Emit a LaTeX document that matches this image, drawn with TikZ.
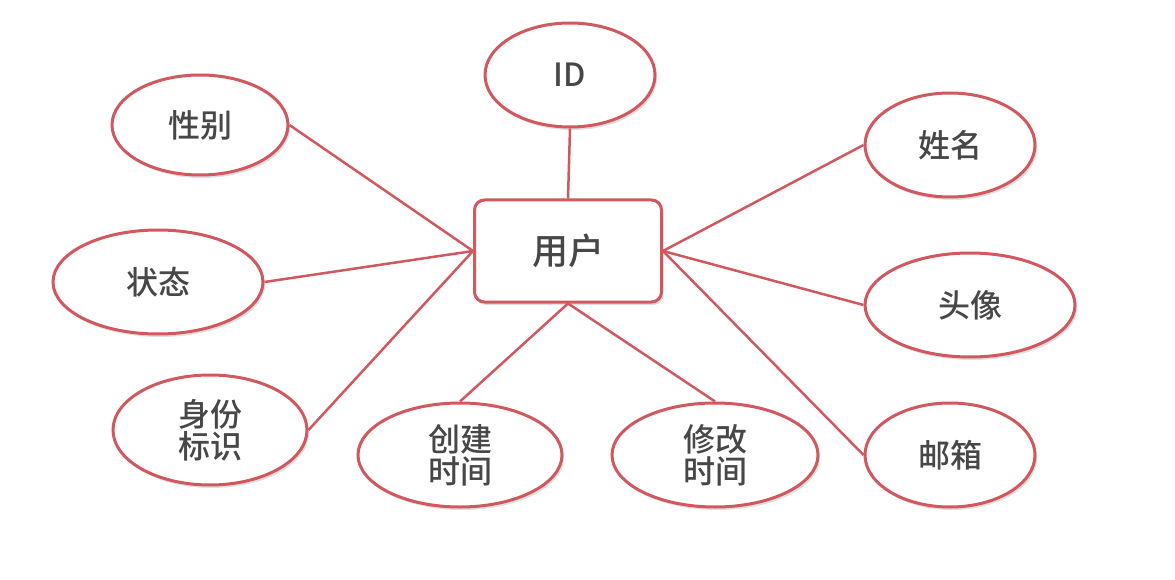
\documentclass[tikz,border=0pt]{standalone}
\usepackage{fontspec}
\setmainfont{Noto Sans CJK SC}[BoldFont={Noto Sans CJK SC Medium}]
\usetikzlibrary{shapes.geometric,shadows}
\definecolor{er}{RGB}{208,88,94}
\begin{document}
\begin{tikzpicture}[x=1pt,y=-1pt,
 attr/.style={ellipse,draw=er,line width=3pt,fill=white,minimum width=#1,minimum height=104pt,inner sep=0pt,align=center,font=\fontsize{32}{34}\selectfont\bfseries,text=black!72,drop shadow={opacity=0.25,shadow xshift=2pt,shadow yshift=-3pt}},
 attr/.default=170pt,
 link/.style={draw=er,line width=2.5pt}]
\useasboundingbox (0,0) rectangle (1175,580);
\node[draw=er,line width=3pt,rounded corners=10pt,minimum width=187pt,minimum height=102pt,fill=white,font=\fontsize{36}{38}\selectfont\bfseries,text=black!72,drop shadow={opacity=0.25,shadow xshift=2pt,shadow yshift=-3pt}] (u) at (568,251) {用户};
\node[attr] (id) at (570,75) {ID};
\node[attr=176pt,minimum height=100pt] (xb) at (200,125) {性别};
\node[attr] (xm) at (950,145) {姓名};
\node[attr=210pt] (zt) at (158,282) {状态};
\node[attr=210pt] (tx) at (970,305) {头像};
\node[attr=194pt,minimum height=110pt] (sf) at (210,430) {身份\\[-2pt]标识};
\node[attr=204pt] (cj) at (460,455) {创建\\[-2pt]时间};
\node[attr=206pt] (xg) at (715,455) {修改\\[-2pt]时间};
\node[attr] (yx) at (950,455) {邮箱};
\path[link] (id.south) -- (u.north);
\path[link] (xb.east) -- (u.west);
\path[link] (zt.east) -- (u.west);
\path[link] (sf.east) -- (u.west);
\path[link] (cj.north) -- (u.south);
\path[link] (xg.north) -- (u.south);
\path[link] (xm.west) -- (u.east);
\path[link] (tx.west) -- (u.east);
\path[link] (yx.west) -- (u.east);
\end{tikzpicture}
\end{document}
